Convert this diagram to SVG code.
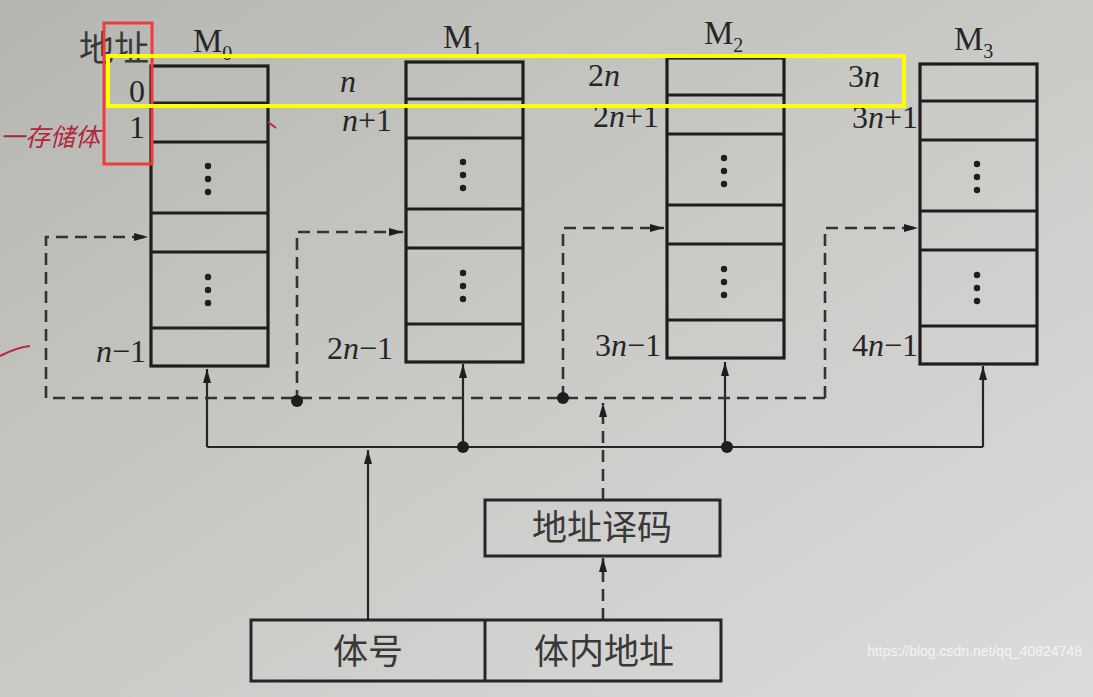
<svg xmlns="http://www.w3.org/2000/svg" width="1093" height="697" viewBox="0 0 1093 697">
<defs>
<linearGradient id="bg" x1="0" y1="0" x2="1" y2="1">
<stop offset="0" stop-color="#b5b5b2"/>
<stop offset="0.45" stop-color="#c8c8c5"/>
<stop offset="1" stop-color="#dcdcdb"/>
</linearGradient>
<marker id="ah" viewBox="0 0 14 8" refX="14" refY="4" markerWidth="14" markerHeight="8" markerUnits="userSpaceOnUse" orient="auto">
<path d="M0,0 L14,4 L0,8 Z" fill="#1e1e1e"/>
</marker>
<g id="bank">
<rect x="0" y="0" width="117" height="300" fill="none" stroke="#1e1e1e" stroke-width="3.2"/>
<line x1="0" y1="37" x2="117" y2="37"/>
<line x1="0" y1="76" x2="117" y2="76"/>
<line x1="0" y1="147" x2="117" y2="147"/>
<line x1="0" y1="186" x2="117" y2="186"/>
<line x1="0" y1="262" x2="117" y2="262"/>
<circle cx="57" cy="100" r="3.2"/>
<circle cx="57" cy="113" r="3.2"/>
<circle cx="57" cy="126" r="3.2"/>
<circle cx="57" cy="211" r="3.2"/>
<circle cx="57" cy="224" r="3.2"/>
<circle cx="57" cy="237" r="3.2"/>
</g>
</defs>
<style>
#bank line{stroke:#1e1e1e;stroke-width:3.2}
#bank circle{fill:#1e1e1e}
.t{font-family:"Liberation Serif",serif;fill:#262626;font-size:32px}
.m{font-size:33px}
.i{font-style:italic}
.cjk{font-family:"Noto Sans CJK SC",sans-serif;fill:#383838;font-size:35px}
.sol{stroke:#262626;stroke-width:2.2;fill:none}
.dash{stroke:#333;stroke-width:2.6;fill:none;stroke-dasharray:12 7}
.box{fill:none;stroke:#262626;stroke-width:3}
</style>
<rect width="1093" height="697" fill="url(#bg)"/>

<g id="connectors">
<path class="sol" d="M207,447 H983"/>
<path class="sol" d="M207,447 V369" marker-end="url(#ah)"/>
<path class="sol" d="M463,447 V364" marker-end="url(#ah)"/>
<path class="sol" d="M725,447 V362" marker-end="url(#ah)"/>
<path class="sol" d="M983,447 V366" marker-end="url(#ah)"/>
<path class="sol" d="M368,620 V450" marker-end="url(#ah)"/>
<circle cx="463" cy="447" r="6" fill="#1e1e1e"/>
<circle cx="727" cy="447" r="6" fill="#1e1e1e"/>
<path class="dash" d="M825,398 H46 V237 H148" marker-end="url(#ah)"/>
<path class="dash" d="M297,402 V232 H403" marker-end="url(#ah)"/>
<path class="dash" d="M563,398 V228 H664" marker-end="url(#ah)"/>
<path class="dash" d="M825,398 V228 H918" marker-end="url(#ah)"/>
<path class="dash" d="M603,500 V403" marker-end="url(#ah)"/>
<path class="dash" d="M603,620 V558" marker-end="url(#ah)"/>
<circle cx="297" cy="401" r="6" fill="#1e1e1e"/>
<circle cx="563" cy="398" r="6" fill="#1e1e1e"/>
</g>

<g id="M0">
<use href="#bank" x="151" y="66"/>
<text class="t m" x="193" y="52">M<tspan font-size="20" dy="8">0</tspan></text>
</g>
<g id="M1">
<use href="#bank" x="406" y="62"/>
<text class="t m" x="443" y="48">M<tspan font-size="20" dy="8">1</tspan></text>
</g>
<g id="M2">
<use href="#bank" x="667" y="58"/>
<text class="t m" x="704" y="44">M<tspan font-size="20" dy="8">2</tspan></text>
</g>
<g id="M3">
<use href="#bank" x="955" y="64" transform="translate(-35,0)"/>
<text class="t m" x="954" y="50">M<tspan font-size="20" dy="8">3</tspan></text>
</g>

<g id="addr-labels">
<text class="cjk" x="79" y="61" font-size="34" fill="#333">地址</text>
<text class="t" x="145" y="102" text-anchor="end">0</text>
<text class="t" x="145" y="138" text-anchor="end">1</text>
<text class="t i" x="340" y="92">n</text>
<text class="t" x="392" y="131" text-anchor="end"><tspan class="i">n</tspan>+1</text>
<text class="t" x="588" y="86">2<tspan class="i">n</tspan></text>
<text class="t" x="659" y="127" text-anchor="end">2<tspan class="i">n</tspan>+1</text>
<text class="t" x="848" y="87">3<tspan class="i">n</tspan></text>
<text class="t" x="918" y="128" text-anchor="end">3<tspan class="i">n</tspan>+1</text>
<text class="t" x="146" y="362" text-anchor="end"><tspan class="i">n</tspan>−1</text>
<text class="t" x="393" y="359" text-anchor="end">2<tspan class="i">n</tspan>−1</text>
<text class="t" x="661" y="356" text-anchor="end">3<tspan class="i">n</tspan>−1</text>
<text class="t" x="918" y="356" text-anchor="end">4<tspan class="i">n</tspan>−1</text>
</g>

<g id="decoder">
<rect class="box" x="485" y="500" width="235" height="56"/>
<text class="cjk" x="602" y="540" text-anchor="middle">地址译码</text>
</g>
<g id="address-reg">
<rect class="box" x="251" y="620" width="470" height="61"/>
<line x1="485" y1="620" x2="485" y2="681" stroke="#262626" stroke-width="3"/>
<text class="cjk" x="368" y="664" text-anchor="middle">体号</text>
<text class="cjk" x="604" y="664" text-anchor="middle">体内地址</text>
</g>

<g id="annotations">
<rect x="104" y="23" width="48" height="141" fill="none" stroke="#ee3b3b" stroke-width="3"/>
<rect x="108" y="56" width="796" height="50" fill="none" stroke="#ffff00" stroke-width="4"/>
<text x="0" y="146" font-family="Noto Sans CJK SC,sans-serif" font-size="25" font-style="italic" fill="#b0283a">一存储体</text>
<path d="M0,356 Q15,348 30,346" stroke="#c0283a" stroke-width="2" fill="none"/>
<path d="M268,122 L276,128" stroke="#c0283a" stroke-width="2" fill="none"/>
</g>
<text x="1082" y="656" text-anchor="end" font-family="Liberation Sans,sans-serif" font-size="14" fill="#f4f4f4">https://blog.csdn.net/qq_40824748</text>
</svg>
